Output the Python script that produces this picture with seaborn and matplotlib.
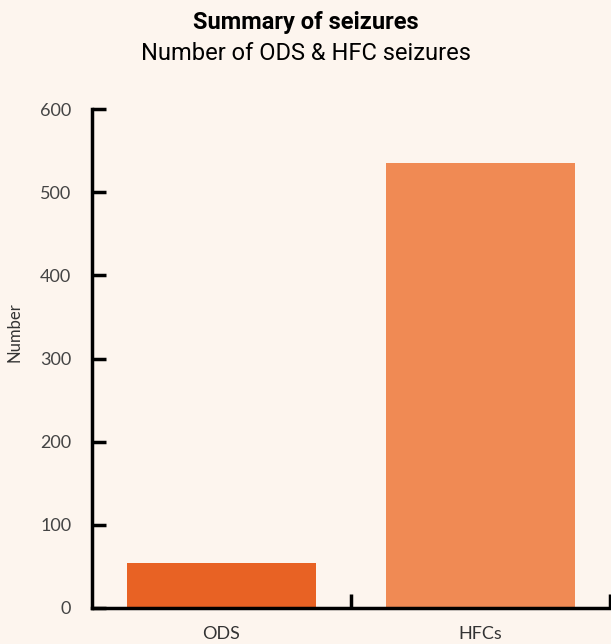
import pandas as pd
import seaborn as sns
import matplotlib.pyplot as plt

categories = ['ODS', 'HFCs']
seizures = [54, 535]
bar_colors = ['#E86224', '#F08A54']

df = pd.DataFrame({'Type': categories, 'Number': seizures})

bg = '#FDF5EE'
plt.rcParams['font.family'] = ['Lato', 'DejaVu Sans']

fig = plt.figure(figsize=(6.11, 6.44), dpi=100, facecolor=bg)
ax = fig.add_axes([92/611, 36/644, 518/611, 499/644])
ax.set_facecolor(bg)

sns.barplot(x='Type', y='Number', data=df, hue='Type', palette=bar_colors,
            width=0.73, legend=False, ax=ax, saturation=1)

ax.set_xlim(-0.5, 1.5)
ax.set_ylim(0, 600)
ax.set_yticks([0, 100, 200, 300, 400, 500, 600])
ax.set_xticks([0, 1])
ax.set_xticks([0.5, 1.5], minor=True)
ax.tick_params(axis='x', which='major', length=0, pad=13, labelsize=13, labelcolor='#333333')
ax.tick_params(axis='x', which='minor', direction='in', length=10, width=2.5)
ax.tick_params(axis='y', direction='in', length=10, width=2.5, pad=15,
               labelsize=13, labelcolor='#444444')
for s in ['top', 'right']:
    ax.spines[s].set_visible(False)
for s in ['left', 'bottom']:
    ax.spines[s].set_linewidth(2.5)
ax.set_xlabel(None)
ax.set_ylabel('Number', fontsize=12, color='#333333')
ax.yaxis.set_label_coords(-0.135, 0.553)

fig.text(0.5, 1 - 23/644, 'Summary of seizures', ha='center', va='center',
         fontsize=17, fontweight='bold', family=['Roboto', 'DejaVu Sans'])
fig.text(0.5, 1 - 53/644, 'Number of ODS & HFC seizures', ha='center', va='center',
         fontsize=17, family=['Roboto', 'DejaVu Sans'])

plt.savefig('out.png', dpi=100, facecolor=bg)
